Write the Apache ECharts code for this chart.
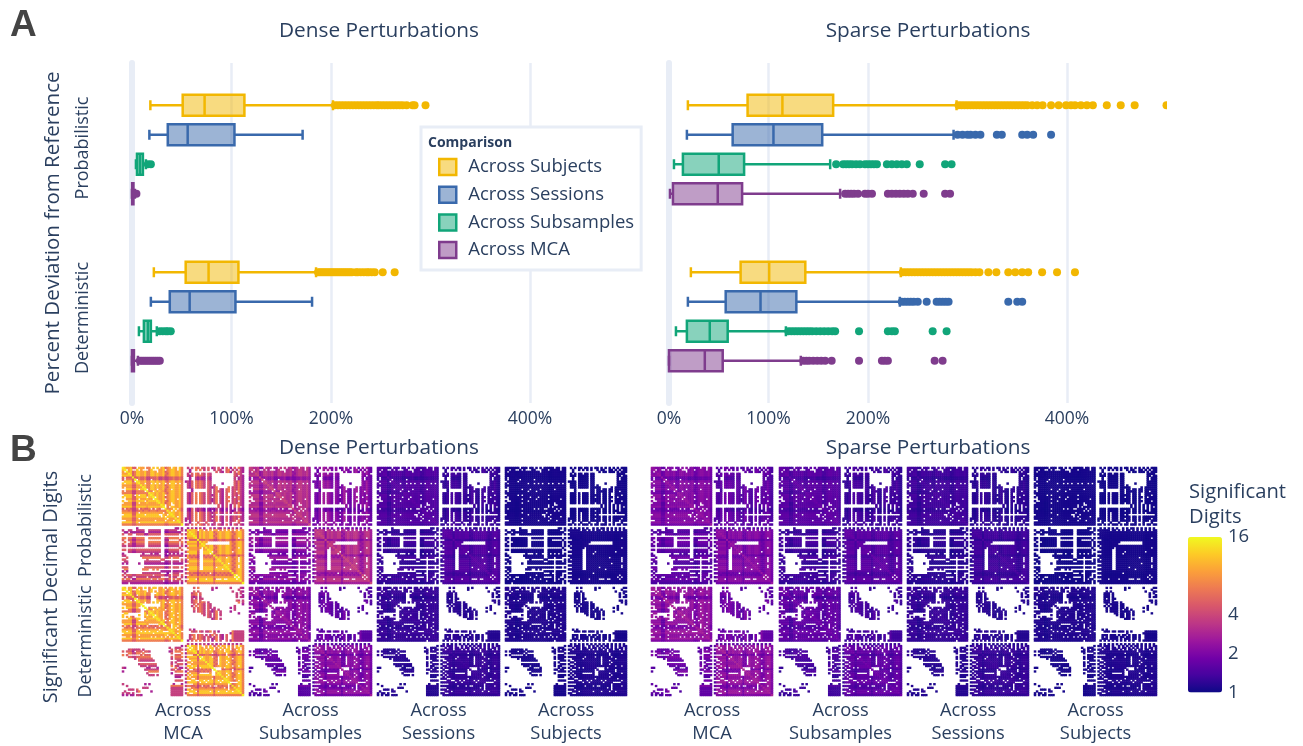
<!DOCTYPE html>
<html><head><meta charset="utf-8">
<style>html,body{margin:0;padding:0;background:#fff}#c{width:1303px;height:746px}</style>
<script src="https://cdn.jsdelivr.net/npm/echarts@6/dist/echarts.min.js"></script>
</head><body><div id="c"></div>
<script>
const modes = ['Probabilistic', 'Deterministic'];
const comparisons = ['Across Subjects', 'Across Sessions', 'Across Subsamples', 'Across MCA'];
const xTicks = [0, 100, 200, 400];
const colorTicks = [1, 2, 4, 16];

// whisker low, q1, median, q3, whisker high ; [Probabilistic, Deterministic]
const denseSubjects = [[18.5, 51, 73, 113, 202], [22, 54, 77, 107, 185]];
const denseSessions = [[17.5, 36, 56, 103, 171.5], [19, 38, 58, 104, 181]];
const denseSubsamples = [[4, 5, 8, 11, 14], [7, 12, 16, 19, 25]];
const denseMCA = [[0, 0.2, 0.8, 1.5, 3], [0, 0, 0.8, 2, 6]];
const sparseSubjects = [[19, 79, 114, 165, 289], [22, 72, 100.7, 137, 233]];
const sparseSessions = [[18, 64, 105, 154, 286], [19, 57, 92, 128, 232]];
const sparseSubsamples = [[5, 14, 50, 75.5, 162], [7, 18, 41, 59, 117.5]];
const sparseMCA = [[1, 4, 49, 73.5, 172], [0, 0, 36, 54, 132.5]];

// outliers
const denseOutSubjects = [[204,207,210,213,216,219,222,225,228,231,234,237,240,243,246,248,251,254,257,260,263,266,269,272,276,282,284,295],
  [187,189,191,193,195,197,199,201,203,205,207,209,211,213,215,217,219,221,225,227,230,233,236,238,241,244,252,264]];
const denseOutSessions = [[], []];
const denseOutSubsamples = [[16, 19], [28, 31, 34, 36, 39]];
const denseOutMCA = [[4.5], [8,10,12,14,16,18,20,22,24,26,28]];
const sparseOutSubjects = [[291,294,297,300,303,306,309,312,315,318,321,324,327,330,333,336,339,342,345,348,351,354,357,360,365,370,375.5,384,391.6,399,404,408,414,420,426,440,454,468,500],
  [235,238,241,244,247,250,253,256,259,262,265,268,271,274,277,280,283,286,289,292,295,298,301,304,308,312,321,329,341,348,355,361,375,390,408]];
const sparseOutSessions = [[290,295,300,303,308,313,329.5,334.5,355,360,366,384], [234,237,240,243,246,250,259,269,272,275,278,281,341,350,355]];
const sparseOutSubsamples = [[168,175,178,181,184,188,192,197,200,203,206,209,219,224,229,234,239,252,277.5,284], [120,123,126,129,132,135,138,141,144,148,152,156,160,164,167,191,220,224,227,265,279]];
const sparseOutMCA = [[177,180,183,186,190,197,200,204,220,224,228,232,236,240,245,256,277.5,282.5], [135,138,141,145,149,153,157,163.5,191,214,217,220,267,275]];

const panelNames = ['Across\nMCA', 'Across\nSubsamples', 'Across\nSessions', 'Across\nSubjects'];

// Connectivity texture read off the matrices: upper triangle, right aligned to column 59,
// '.' = no value, 0-9 = relative strength, '|' is only a ruler every ten columns
const probTexture = [
"9877855.87|7.66.8.8.7|8567.87.86|..4.5.65.5|4.5.34.5.3|.5.3.5.643",
" 9.78..8.7|...68...77|8.67887.86|...3..6.6.|4.5..4.54.|.56.4.4.43",
"  97856887|7866887.77|8567887786|...3......|......5.43|.563.5.643",
"   9856887|7866887877|8657887786|..4.5.65.5|4.54......|.....5464.",
"    956887|7866887877|8567887786|..435.6565|4.54......|.....54.43",
"     95565|5644555644|5445565565|...3..4343|3.43......|.....4.343",
"      9.65|5644.55644|5445565565|...3..4343|3.43......|.....4.343",
"       987|7866887877|8657887786|.3435.6565|4.54......|.....54643",
"        97|7.66.8.8.7|8.6.88.7.6|..435.6565|4.54.....3|.....54643",
"         9|7866887877|8567887786|..435.6565|4.54.4....|.....54643",
"9866887877|8657887786|..435.6565|4.54346...|..6.454643",
" 9.6887.77|8567.87786|....3.....|..54.46.43|.56.454643",
"  966.8787|7567887786|....3.....|..54.46543|.56.45.643",
"   9887877|8657887786|..435.6.65|4.54.46.43|.5..454643",
"    987877|8.67887786|..435.6.65|4.54346.43|.5..454.43",
"     9.877|8567887786|..435.6.65|4.54.46.43|.56.4.4643",
"      9877|8.67887.86|..435.6.65|4.54346.43|.5..454643",
"       987|8657887786|..435.6.65|4.54346.43|.56.454.43",
"        97|8567.87786|..435.6.65|4.54.46.43|.5..454643",
"         9|8.67..7786|..........|.......5.3|.5.3.5.643",
"9.6.887786|..........|.......5.3|.5.3.5.6.3",
" 9667.8.75|..325.4343|2.32324.32|.3.3.3.432",
"  97.8.775|..325.4343|2.32.24.32|.3.323.432",
"   9887786|..435.6.65|4.54346.43|.5.3.54643",
"    987786|..435.6.65|4.54.4....|.........3",
"     97.86|..435.6.65|4.54346.43|.5.3454643",
"      9786|.3435.6.65|4.54.46.43|.5.3454.43",
"       986|.3.35.6.65|4.54346.43|.5.345.643",
"        96|...3...5..|.5...4...3|...4...5..",
"         9|.34.5.6.65|4.5.34.543|.5.3.54.43",
"..........|..........|..........",
" .3.4.3.4.|3..4.3.43.|4.3.4.3.4.",
"  97887.87|.6.7.77.6.|7.7.6.7.76",
"   9887587|8778856787|7887567886",
"    987587|8778865787|7887657886",
"     98587|8778856787|7887567886",
"      9587|8778865787|7887567.86",
"       955|5665544565|5665446565",
"        97|87........|...7567886",
"         9|8.........|...7657886",
"9778856787|7887567886",
" 978865787|7887657.86",
"  98856787|7887567886",
"   9.65787|7887.67886",
"    956787|7887657886",
"     96565|5665446565",
"      9787|7.87567.86",
"       987|7887657.86",
"        97|7887567.86",
"         9|78.7657886",
"9887567.86",
" 987657.86",
"  97567886",
"   9657886",
"    967886",
"     9.886",
"      9.86",
"       986",
"        96",
"         9"];
const detTexture = [
"98.7855.87|.8.6.88.77|.6.78.7.86|.....5.6..|....4.3...|...4....43",
" 9.78..8.7|...68...77|8.67887.86|..........|....3.....|.......4..",
"  9.856887|78.68.7.77|8657.87786|.....5.5..|..........|....4...43",
"   9865887|7866...877|8567887786|....456.5.|..........|......4.4.",
"    965.87|7866..7877|8.67887.86|....556.5.|..........|......4..3",
"     95565|5644..5644|5445565565|....434.4.|..........|......4.43",
"      9.65|5644...644|54.5565565|....4.4.44|..........|..........",
"       987|7866...877|8657887786|....456.5.|..........|......54.4",
"        97|7.66.8.8.7|8.6.88.7.6|....456.56|5.4.......|.......6.4",
"         9|.........7|8567.87786|.....5.565|4.54......|.........3",
"9........7|8657887786|....4.6.65|4.54......|.....4....",
" 9.6887.77|8567.87786|.....5.565|4.54.4....|...3.4....",
"  966.8787|7.67887786|.....5.565|4.5.34.4..|.....4....",
"   9887877|.657.87786|.....4.565|4.54346.4.|...3......",
"    987877|.567887.86|.........5|4.54.46.4.|.......3..",
"     9.877|.6578.7786|..........|4.54.46.4.|..........",
"      9877|.5.7887.86|..........|..54.46...|..........",
"       987|.657.87786|..........|....346.4.|..........",
"        97|8.6.887786|..........|..........|..........",
"         9|8567887.86|..........|..........|..........",
"9.67.87786|..........|..........|..........",
" 966.88.75|..........|..........|..........",
"  97.8.775|..........|..........|..........",
"   9887.86|...4.3....|..........|..........",
"    98778.|....545.54|.446.4.3..|....644444",
"     97.86|..........|.....5....|...3644444",
"      9786|...456.565|.4.46.5.43|.5..644444",
"       986|...4.6.565|4.54.46.43|.5..644444",
"        96|...456.565|4.5.346.43|.5..644444",
"         9|..3.5.6.6.|4.5.3.6.4.|.5.3644444",
"..........|..........|..........",
" .4.4.3.4.|4.3.4.3.4.|4.3.4.3.4.",
"  9.887.8.|.7.8.5.7.7|8.7.6.8.86",
"   9.87.87|.7.88.6.8.|7.8.6.78.6",
"    987.87|8.7.8.67.7|.88.56.8.6",
"     98587|8778856787|.887567886",
"      9587|8778.65787|7.87657.86",
"       955|5665544565|5.65446565",
"        9.|8778.65.87|78.7567886",
"         9|8778856.87|7887.67886",
"9778865.87|7.87567886",
" 978856.87|78.7657886",
"  98865.87|7.87567886",
"   9856787|7887.67.86",
"    9....7|.887657886",
"     9...5|5665.46565",
"      9787|7887.67886",
"       987|7.87567.86",
"        97|78.7657886",
"         9|7.87567886",
"98876.7886",
" 987657.86",
"  9....886",
"   9567886",
"    967.86",
"     97886",
"      9886",
"       986",
"        96",
"         9"];

// per panel [low, high] of log2(significant digits); left to right
const probRanges = [[0.3,3.9],[0.2,2.0],[0,0.7],[0,0.12],[0.1,1.3],[0,0.8],[0,0.5],[0,0.1]];
const detRanges = [[0.3,3.9],[0,1.4],[0,0.4],[0,0.2],[0.1,1.5],[0,0.9],[0,0.4],[0,0.2]];

const palette = {
  'Across Subjects': ['#f2b701', 'rgba(242,183,1,0.5)'],
  'Across Sessions': ['#3969ac', 'rgba(57,105,172,0.5)'],
  'Across Subsamples': ['#11a579', 'rgba(17,165,121,0.5)'],
  'Across MCA': ['#7f3c8d', 'rgba(127,60,141,0.5)']
};
const plasma = ['#0d0887','#46039f','#7201a8','#9c179e','#bd3786','#d8576b','#ed7953','#fb9f3a','#fdca26','#f0f921'];
const ink = '#2a3f5f', gridCol = '#e8edf6', font = '"Open Sans"';

const N = 60;
function expand(tex, lo, hi) {
  const cell = {};
  tex.forEach((row, r) => {
    const s = row.replace(/\|/g, '').padStart(N, ' ');
    for (let c = 0; c < N; c++) {
      if (s[c] === '.' || s[c] === ' ') continue;
      const v = lo + (hi - lo) * (+s[c]) / 9;
      cell[r + '_' + c] = v; cell[c + '_' + r] = v;
    }
  });
  const out = [];
  for (const k in cell) { const [r, c] = k.split('_').map(Number); out.push([c, r, cell[k]]); }
  return out;
}

const grids = [], xAxes = [], yAxes = [], series = [], heatIdx = [];
const boxShift = [1.5, -1.5];
function addBoxPanel(left, width, xMin, isFirst, sets, outs) {
  const g = grids.length;
  grids.push({ left, top: 63, width, height: 340 });
  xAxes.push({ gridIndex: g, type: 'value', min: xMin, max: 500,
    axisLine: { show: false },
    axisTick: { show: false, customValues: xTicks },
    axisLabel: { customValues: xTicks, formatter: '{value}%', color: ink, fontFamily: font, fontSize: 17.5, margin: 7 },
    splitLine: { show: true, lineStyle: { color: gridCol, width: 2.5 } } });
  yAxes.push({ gridIndex: g, type: 'category', data: modes, inverse: true,
    axisLine: { show: true, onZero: true, lineStyle: { color: gridCol, width: 6 } },
    axisTick: { show: false },
    axisLabel: isFirst ? { rotate: 90, margin: 30, color: ink, fontFamily: font, fontSize: 18 } : { show: false },
    name: isFirst ? 'Percent Deviation from Reference' : '',
    nameLocation: 'middle', nameRotate: 90, nameGap: 58,
    nameTextStyle: { color: ink, fontFamily: font, fontSize: 20.5 } });
  comparisons.forEach((name, k) => {
    const [line, fill] = palette[name];
    const off = (k - 1.5) * 29.5;
    series.push({ type: 'custom', name, xAxisIndex: g, yAxisIndex: g, clip: true,
      data: sets[k].map((b, i) => [i, ...b]),
      encode: { x: [1, 2, 3, 4, 5], y: 0 }, z: 3, silent: true, animation: false,
      itemStyle: { color: fill, borderColor: line },
      renderItem(p, api) {
        const i = api.value(0);
        const y = api.coord([0, i])[1] + off + boxShift[i];
        const X = d => api.coord([api.value(d), i])[0];
        const [lo, q1, md, q3, hi] = [X(1), X(2), X(3), X(4), X(5)];
        const ln = { stroke: line, lineWidth: 2.5, fill: null };
        const seg = (a, b, c, d) => ({ type: 'line', shape: { x1: a, y1: b, x2: c, y2: d }, style: ln });
        return { type: 'group', children: [
          seg(lo, y, q1, y), seg(q3, y, hi, y),
          seg(lo, y - 5, lo, y + 5), seg(hi, y - 5, hi, y + 5),
          { type: 'rect', shape: { x: q1, y: y - 10.5, width: q3 - q1, height: 21 }, style: { fill, stroke: line, lineWidth: 2.5 } },
          seg(md, y - 10.5, md, y + 10.5)
        ] };
      } });
    const pts = [];
    outs[k].forEach((list, i) => list.forEach(v => pts.push([i, v])));
    series.push({ type: 'custom', name, xAxisIndex: g, yAxisIndex: g, clip: true,
      data: pts, encode: { x: 1, y: 0 }, z: 4, silent: true, animation: false,
      itemStyle: { color: line },
      renderItem(p, api) {
        const i = api.value(0);
        const c = api.coord([api.value(1), i]);
        return { type: 'circle', shape: { cx: c[0], cy: c[1] + off + boxShift[i], r: 4 }, style: { fill: line } };
      } });
  });
}
addBoxPanel(122, 507.5, -10, true, [denseSubjects, denseSessions, denseSubsamples, denseMCA], [denseOutSubjects, denseOutSessions, denseOutSubsamples, denseOutMCA]);
addBoxPanel(664, 502.5, -5, false, [sparseSubjects, sparseSessions, sparseSubsamples, sparseMCA], [sparseOutSubjects, sparseOutSessions, sparseOutSubsamples, sparseOutMCA]);

const panelX = [[122,122],[249,123],[377,123],[505,122],[651,122],[779,123],[907,122],[1034,123]];
const axisIdx = Array.from({ length: N }, (_, i) => i);
[[467, 117, probTexture, probRanges, 'Probabilistic'], [587, 117, detTexture, detRanges, 'Deterministic']].forEach(([top, h, tex, rng, modeName], rowI) => {
  panelX.forEach(([left, w], j) => {
    const g = grids.length;
    grids.push({ left, top, width: w, height: h });
    xAxes.push({ gridIndex: g, type: 'category', data: axisIdx, axisLine: { show: false }, axisTick: { show: false }, axisLabel: { show: false }, splitLine: { show: false },
      name: rowI === 1 ? panelNames[j % 4] : '', nameLocation: 'middle', nameGap: 26,
      nameTextStyle: { color: ink, fontFamily: font, fontSize: 18.3, lineHeight: 23, verticalAlign: 'middle' } });
    yAxes.push({ gridIndex: g, type: 'category', data: axisIdx, inverse: true, axisLine: { show: false }, axisTick: { show: false }, axisLabel: { show: false }, splitLine: { show: false },
      name: j === 0 ? modeName : '', nameLocation: 'middle', nameRotate: 90, nameGap: 27,
      nameTextStyle: { color: ink, fontFamily: font, fontSize: 18 } });
    heatIdx.push(series.length);
    series.push({ type: 'heatmap', xAxisIndex: g, yAxisIndex: g, data: expand(tex, rng[j][0], rng[j][1]), silent: true, animation: false, progressive: 0, emphasis: { disabled: true } });
  });
});

// colour bar tick scale
const cg = grids.length;
grids.push({ left: 1222, top: 537, width: 1, height: 155.5 });
xAxes.push({ gridIndex: cg, type: 'value', show: false });
yAxes.push({ gridIndex: cg, type: 'log', logBase: 2, min: 1, max: 16, position: 'right',
  axisLine: { show: false }, axisTick: { show: false, customValues: colorTicks }, splitLine: { show: false },
  axisLabel: { customValues: colorTicks, color: ink, fontFamily: font, fontSize: 18.5, margin: 5 } });

const titleText = (text, x, y, extra) => ({ text, left: x, top: y, textAlign: 'center', textVerticalAlign: 'middle',
  textStyle: Object.assign({ color: ink, fontFamily: font, fontSize: 20.8, fontWeight: 'normal' }, extra || {}) });

const option = {
  animation: false, backgroundColor: '#fff',
  grid: grids, xAxis: xAxes, yAxis: yAxes, series,
  title: [
    titleText('Dense Perturbations', 374, 26), titleText('Sparse Perturbations', 923, 26),
    titleText('Dense Perturbations', 374, 443), titleText('Sparse Perturbations', 923, 443)
  ],
  legend: { left: 421, top: 127, orient: 'vertical', data: comparisons.map(name => ({ name, icon: 'rect', itemStyle: { color: palette[name][1], borderColor: palette[name][0], borderWidth: 2.5 } })),
    itemWidth: 17, itemHeight: 16, itemGap: 7.7, padding: [30, 7, 10, 17], backgroundColor: '#fff', borderColor: gridCol, borderWidth: 3,
    selectedMode: false, textStyle: { color: ink, fontFamily: font, fontSize: 18.5, lineHeight: 20, padding: [0, 0, 0, 7] } },
  visualMap: { type: 'continuous', min: 0, max: 4, seriesIndex: heatIdx, calculable: false, left: 1188, top: 537, itemWidth: 34, itemHeight: 155.5,
    text: null, padding: 0, inRange: { color: plasma }, hoverLink: false, realtime: false, showLabel: false },
  graphic: [
    { type: 'text', left: 428, top: 136, z: 20, style: { text: 'Comparison', fill: ink, font: 'bold 14px "Open Sans"' } },
    { type: 'text', left: 10, top: 7, style: { text: 'A', fill: '#444', font: 'bold 37px "Liberation Sans"' } },
    { type: 'text', left: 10, top: 432, style: { text: 'B', fill: '#444', font: 'bold 37px "Liberation Sans"' } },
    { type: 'text', x: 51, y: 587, rotation: Math.PI / 2, style: { text: 'Significant Decimal Digits', fill: ink, font: '19.9px "Open Sans"', textAlign: 'center', textVerticalAlign: 'middle' } },
    { type: 'text', left: 1189, top: 480, style: { text: 'Significant\nDigits', fill: ink, font: '20.2px "Open Sans"', lineHeight: 25 } }
  ]
};
const chart = echarts.init(document.getElementById('c'), null, { renderer: 'canvas', width: 1303, height: 746 });
chart.setOption(option);
</script></body></html>
